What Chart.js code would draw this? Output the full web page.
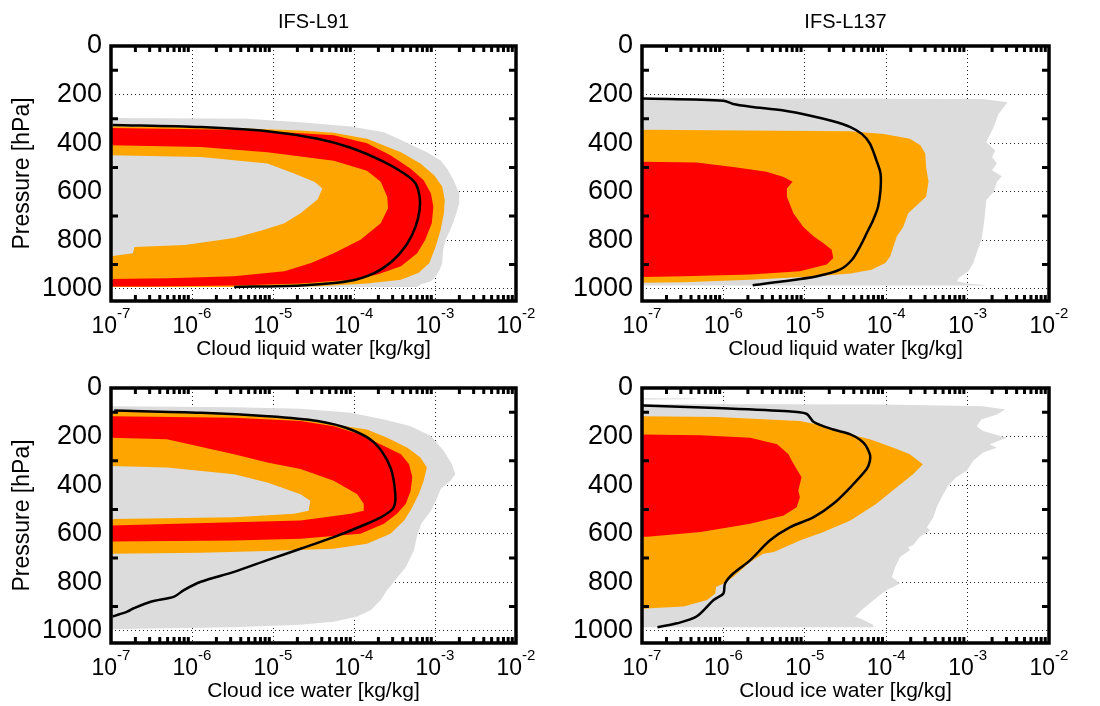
<!DOCTYPE html>
<html>
<head>
<meta charset="utf-8">
<script src="https://cdn.jsdelivr.net/npm/chart.js@4.4.0/dist/chart.umd.min.js"></script>
<style>
  html, body { margin: 0; padding: 0; background: #fff; }
  #wrap { position: relative; width: 1100px; height: 706px; }
  #wrap canvas { position: absolute; left: 0; top: 0; }
</style>
</head>
<body>
<div id="wrap">
  <canvas id="c1" width="1100" height="706"></canvas>
  <canvas id="c2" width="1100" height="706"></canvas>
  <canvas id="c3" width="1100" height="706"></canvas>
  <canvas id="c4" width="1100" height="706"></canvas>
</div>
<script>
// axes
const yLabelValues = [0, 200, 400, 600, 800, 1000];
const yMinorTicks = [100, 300, 500, 700, 900];
const xGridValues = [1e-6, 1e-5, 1e-4, 1e-3];
const xLabelExp = [-7, -6, -5, -4, -3, -2];

// each point: [log10 of mixing ratio (kg/kg), pressure (hPa)]
// IFS-L91, cloud liquid water
const l91LiqGrey = [[-7,296],[-5.32,300],[-4.66,314],[-4.04,331],[-3.63,355],[-3.36,396],[-3.10,437],[-2.93,471],[-2.85,505],[-2.77,553],[-2.70,607],[-2.70,648],[-2.75,703],[-2.81,757],[-2.87,798],[-2.90,839],[-2.91,894],[-2.95,928],[-2.99,948],[-3.05,969],[-3.18,982],[-3.22,992],[-7,992]];
const l91LiqOrange = [[-7,330],[-5.48,338],[-4.66,348],[-4.25,357],[-3.84,382],[-3.42,437],[-3.18,484],[-3.01,532],[-2.91,580],[-2.88,634],[-2.89,689],[-2.93,757],[-2.99,825],[-3.07,894],[-3.20,934],[-3.42,962],[-3.84,978],[-4.45,989],[-5.48,992],[-7,992]];
const l91LiqOrangeIn = [[-7,450],[-5.89,457],[-5.07,484],[-4.74,525],[-4.49,559],[-4.39,587],[-4.45,632],[-4.66,689],[-4.86,730],[-5.11,757],[-5.48,791],[-6.09,819],[-6.71,828],[-6.73,853],[-7,866]];
const l91LiqRed = [[-7,338],[-5.48,345],[-4.66,359],[-4.25,368],[-3.84,400],[-3.55,450],[-3.30,505],[-3.14,553],[-3.05,607],[-3.02,662],[-3.04,730],[-3.12,798],[-3.22,853],[-3.42,907],[-3.71,941],[-4.04,962],[-4.66,978],[-5.48,986],[-6.5,990],[-7,990]];
const l91LiqRedIn = [[-7,409],[-5.89,416],[-5.07,437],[-4.25,473],[-3.84,514],[-3.67,559],[-3.59,621],[-3.58,668],[-3.67,730],[-3.92,798],[-4.25,853],[-4.53,894],[-4.86,928],[-5.48,948],[-6.30,956],[-7,959]];
const l91LiqMean = [[-6.98,325],[-5.89,334],[-5.07,351],[-4.45,382],[-4.04,419],[-3.63,477],[-3.38,525],[-3.24,566],[-3.19,621],[-3.19,675],[-3.24,744],[-3.34,812],[-3.51,880],[-3.75,935],[-4.08,969],[-4.66,986],[-5.48,992]];

// IFS-L137, cloud liquid water
const l137LiqGrey = [[-7,214],[-2.81,218],[-2.51,232],[-2.62,280],[-2.68,334],[-2.77,396],[-2.66,430],[-2.70,457],[-2.64,484],[-2.70,512],[-2.58,536],[-2.64,559],[-2.68,600],[-2.77,634],[-2.79,703],[-2.81,757],[-2.83,798],[-2.89,853],[-2.93,894],[-2.99,928],[-3.11,955],[-3.13,969],[-3.01,978],[-2.79,984],[-2.79,986],[-7,986]];
const l137LiqOrange = [[-7,345],[-4.44,351],[-4.03,362],[-3.71,382],[-3.58,409],[-3.52,443],[-3.51,498],[-3.48,559],[-3.51,621],[-3.62,655],[-3.73,689],[-3.79,744],[-3.87,784],[-3.91,825],[-3.95,866],[-4.01,894],[-4.18,921],[-4.44,937],[-4.85,948],[-5.67,962],[-6.49,973],[-7,975]];
const l137LiqRed = [[-7,477],[-6.33,480],[-5.88,498],[-5.47,518],[-5.26,539],[-5.15,559],[-5.22,587],[-5.22,621],[-5.14,689],[-5.02,744],[-4.89,784],[-4.77,812],[-4.67,839],[-4.65,873],[-4.73,900],[-5.06,928],[-5.67,941],[-6.49,948],[-7,951]];
const l137LiqMean = [[-6.99,216],[-6.00,225],[-5.88,239],[-5.67,250],[-5.26,266],[-4.93,287],[-4.65,310],[-4.44,334],[-4.30,362],[-4.20,402],[-4.12,471],[-4.07,525],[-4.07,593],[-4.10,662],[-4.16,716],[-4.24,771],[-4.32,825],[-4.42,880],[-4.57,921],[-4.85,948],[-5.26,969],[-5.64,985]];

// IFS-L91, cloud ice water
const l91IceGrey = [[-7,75],[-5.48,79],[-4.66,85],[-4.04,102],[-3.63,130],[-3.30,157],[-3.05,198],[-2.89,259],[-2.79,314],[-2.75,355],[-2.81,382],[-2.93,416],[-2.97,450],[-3.05,505],[-3.17,559],[-3.22,607],[-3.26,668],[-3.36,737],[-3.49,791],[-3.59,832],[-3.67,873],[-3.79,914],[-3.96,941],[-4.25,962],[-4.66,975],[-5.48,985],[-6.31,989],[-7,993]];
const l91IceOrange = [[-7,95],[-5.48,109],[-4.66,130],[-4.25,150],[-3.84,171],[-3.59,205],[-3.34,246],[-3.18,286],[-3.10,327],[-3.14,382],[-3.20,437],[-3.28,491],[-3.38,546],[-3.55,600],[-3.84,641],[-4.25,662],[-5.07,671],[-5.89,678],[-7,682]];
const l91IceOrangeIn = [[-7,321],[-6.31,327],[-5.48,355],[-5.07,389],[-4.66,437],[-4.54,464],[-4.56,505],[-4.74,518],[-5.48,532],[-6.31,536],[-7,539]];
const l91IceRed = [[-7,116],[-5.48,123],[-4.66,136],[-4.25,157],[-3.92,191],[-3.63,239],[-3.42,273],[-3.32,314],[-3.28,368],[-3.30,423],[-3.36,477],[-3.47,518],[-3.63,559],[-3.92,600],[-4.66,621],[-5.48,628],[-7,632]];
const l91IceRedIn = [[-7,205],[-6.31,211],[-5.48,273],[-5.07,307],[-4.66,334],[-4.25,382],[-3.96,437],[-3.88,477],[-3.88,505],[-4.04,518],[-4.66,546],[-5.48,553],[-7,566]];
const l91IceMean = [[-6.96,93],[-5.89,102],[-5.07,116],[-4.45,136],[-4.04,171],[-3.75,225],[-3.55,327],[-3.49,437],[-3.51,491],[-3.63,525],[-3.84,559],[-4.25,614],[-4.66,662],[-5.07,709],[-5.48,757],[-5.89,798],[-6.10,832],[-6.22,859],[-6.51,880],[-6.72,907],[-6.80,921],[-6.98,941]];

// IFS-L137, cloud ice water
const l137IceSliver = [[-7,41],[-6.33,42],[-6.33,46],[-7,48]];
const l137IceGrey = [[-7,66],[-4.04,68],[-2.81,75],[-2.54,89],[-2.64,109],[-2.83,130],[-2.89,157],[-2.81,177],[-2.52,205],[-2.73,232],[-2.64,246],[-2.81,266],[-2.93,300],[-3.01,341],[-3.14,368],[-3.24,402],[-3.32,450],[-3.38,491],[-3.42,532],[-3.50,573],[-3.46,587],[-3.59,614],[-3.67,648],[-3.73,655],[-3.71,668],[-3.83,696],[-3.89,737],[-3.93,778],[-3.83,805],[-3.99,832],[-4.08,853],[-4.18,880],[-4.30,914],[-4.38,941],[-4.28,955],[-4.16,975],[-4.16,985],[-7,985]];
const l137IceOrange = [[-7,116],[-6.08,119],[-5.06,136],[-4.85,150],[-4.65,171],[-4.44,191],[-4.20,211],[-3.91,246],[-3.71,273],[-3.55,314],[-3.67,355],[-3.87,409],[-4.12,477],[-4.44,546],[-4.77,593],[-5.06,628],[-5.38,675],[-5.51,682],[-5.67,716],[-5.88,778],[-6.00,805],[-6.09,819],[-6.10,846],[-6.20,873],[-6.49,900],[-6.90,907],[-7,910]];
const l137IceRed = [[-7,191],[-6.28,195],[-5.67,205],[-5.34,232],[-5.20,273],[-5.16,300],[-5.10,334],[-5.04,368],[-5.08,423],[-5.06,450],[-5.10,491],[-5.26,525],[-5.67,559],[-6.28,593],[-6.90,611],[-7,614]];
const l137IceMean = [[-6.99,72],[-6.08,82],[-5.26,95],[-4.98,106],[-4.89,140],[-4.65,171],[-4.44,191],[-4.28,225],[-4.20,273],[-4.20,300],[-4.24,334],[-4.44,409],[-4.65,477],[-4.89,532],[-5.18,573],[-5.43,628],[-5.67,709],[-5.88,764],[-5.98,805],[-6.00,846],[-6.12,873],[-6.33,941],[-6.57,969],[-6.81,985]];

const FONT = "'Liberation Sans', Arial, Helvetica, sans-serif";
const GREY = '#dcdcdc', ORANGE = '#ffa500', RED = '#ff0000';
const TICK = 6;
const YAXIS_W = 111;

function toPts(list) {
  return list.map(([q, p]) => ({ x: Math.pow(10, q), y: p }));
}

// outer edge top->bottom, then inner edge back up
function poly(outer, inner) {
  const pts = toPts(outer);
  if (inner) pts.push(...toPts(inner.slice().reverse()));
  return pts;
}

function area(points, color) {
  return { data: points, fill: 'shape', backgroundColor: color, borderWidth: 0, pointRadius: 0, tension: 0 };
}

function meanLine(list) {
  return { data: toPts(list), fill: false, borderColor: '#000', borderWidth: 2.5, pointRadius: 0, tension: 0.3 };
}

const framePlugin = {
  id: 'frame',
  afterDraw(chart, args, opts) {
    const { ctx, chartArea: a, scales: { x, y } } = chart;
    ctx.save();
    ctx.strokeStyle = '#000';
    ctx.lineWidth = 3;
    ctx.beginPath();
    for (let e = -7; e < -2; e++) {
      for (let k = 2; k <= 9; k++) {
        const px = x.getPixelForValue(k * Math.pow(10, e));
        ctx.moveTo(px, a.top); ctx.lineTo(px, a.top + TICK);
        ctx.moveTo(px, a.bottom); ctx.lineTo(px, a.bottom - TICK);
      }
    }
    yMinorTicks.forEach(v => {
      const py = y.getPixelForValue(v);
      ctx.moveTo(a.left, py); ctx.lineTo(a.left + TICK + 1, py);
      ctx.moveTo(a.right, py); ctx.lineTo(a.right - TICK - 1, py);
    });
    ctx.stroke();
    ctx.lineWidth = 3.5;
    ctx.strokeRect(a.left, a.top, a.right - a.left, a.bottom - a.top);

    // x tick labels 10^n
    ctx.fillStyle = '#000';
    ctx.textAlign = 'left';
    ctx.textBaseline = 'alphabetic';
    xLabelExp.forEach(e => {
      const px = x.getPixelForValue(Math.pow(10, e));
      ctx.font = '23px ' + FONT;
      const w1 = ctx.measureText('10').width;
      ctx.font = '15px ' + FONT;
      const sup = String(e);
      const w2 = ctx.measureText(sup).width;
      const x0 = px - (w1 + w2) / 2;
      ctx.font = '23px ' + FONT;
      ctx.fillText('10', x0, a.bottom + 32);
      ctx.font = '15px ' + FONT;
      ctx.fillText(sup, x0 + w1, a.bottom + 17);
    });

    ctx.textAlign = 'center';
    ctx.font = '21px ' + FONT;
    ctx.fillText(opts.xTitle, (a.left + a.right) / 2, a.bottom + 54);
    if (opts.title) {
      ctx.font = '20px ' + FONT;
      ctx.fillText(opts.title, (a.left + a.right) / 2, 28);
    }
    if (opts.yTitle) {
      ctx.translate(23, (a.top + a.bottom) / 2);
      ctx.rotate(-Math.PI / 2);
      ctx.textBaseline = 'middle';
      ctx.font = '23px ' + FONT;
      ctx.fillText(opts.yTitle, 0, 0);
    }
    ctx.restore();
  }
};

function makeChart(id, pad, datasets, frame) {
  return new Chart(document.getElementById(id), {
    type: 'line',
    data: { datasets: datasets },
    options: {
      responsive: false,
      animation: false,
      events: [],
      layout: { padding: pad },
      plugins: { legend: { display: false }, tooltip: { enabled: false }, frame: frame },
      scales: {
        x: {
          type: 'logarithmic', min: 1e-7, max: 1e-2,
          ticks: { display: false },
          grid: { color: '#222', lineWidth: 1, drawTicks: false },
          border: { display: false, dash: [1, 3] },
          afterBuildTicks: s => { s.ticks = xGridValues.map(v => ({ value: v })); },
          afterFit: s => { s.height = 0; }
        },
        y: {
          type: 'linear', min: 0, max: 1050, reverse: true,
          ticks: {
            display: true, autoSkip: false, padding: 9, color: '#000',
            font: { family: FONT, size: 27 },
            callback: v => String(v)
          },
          grid: { color: '#222', lineWidth: 1, drawTicks: false },
          border: { display: false, dash: [1, 3] },
          afterBuildTicks: s => { s.ticks = yLabelValues.map(v => ({ value: v })); },
          afterFit: s => { s.width = YAXIS_W; }
        }
      }
    },
    plugins: [framePlugin]
  });
}

// plot boxes: left panels x 111..516, right panels x 642..1049; top y 46..301, bottom y 388..643
makeChart('c1', { left: 111 - YAXIS_W, top: 46, right: 1100 - 516, bottom: 706 - 301 }, [
  meanLine(l91LiqMean),
  area(poly(l91LiqRed, l91LiqRedIn), RED),
  area(poly(l91LiqOrange, l91LiqOrangeIn), ORANGE),
  area(poly(l91LiqGrey), GREY)
], { xTitle: 'Cloud liquid water [kg/kg]', yTitle: 'Pressure [hPa]', title: 'IFS-L91' });

makeChart('c2', { left: 642 - YAXIS_W, top: 46, right: 1100 - 1049, bottom: 706 - 301 }, [
  meanLine(l137LiqMean),
  area(poly(l137LiqRed), RED),
  area(poly(l137LiqOrange), ORANGE),
  area(poly(l137LiqGrey), GREY)
], { xTitle: 'Cloud liquid water [kg/kg]', title: 'IFS-L137' });

makeChart('c3', { left: 111 - YAXIS_W, top: 388, right: 1100 - 516, bottom: 706 - 643 }, [
  meanLine(l91IceMean),
  area(poly(l91IceRed, l91IceRedIn), RED),
  area(poly(l91IceOrange, l91IceOrangeIn), ORANGE),
  area(poly(l91IceGrey), GREY)
], { xTitle: 'Cloud ice water [kg/kg]', yTitle: 'Pressure [hPa]' });

makeChart('c4', { left: 642 - YAXIS_W, top: 388, right: 1100 - 1049, bottom: 706 - 643 }, [
  meanLine(l137IceMean),
  area(poly(l137IceRed), RED),
  area(poly(l137IceOrange), ORANGE),
  area(poly(l137IceGrey), GREY),
  area(poly(l137IceSliver), '#e6e6e6')
], { xTitle: 'Cloud ice water [kg/kg]' });
</script>
</body>
</html>
